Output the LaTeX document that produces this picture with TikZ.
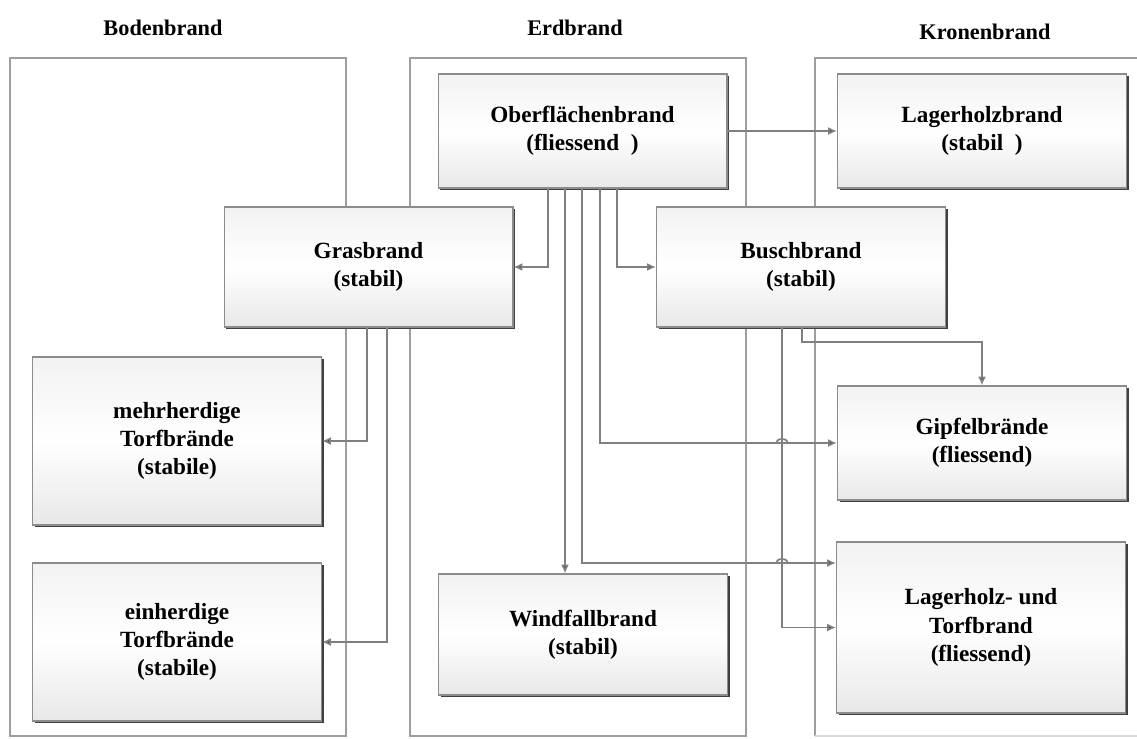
\documentclass[tikz,border=0pt]{standalone}
\usepackage{fontspec}
\setmainfont{Liberation Serif}
\usepackage{tikz}
\usetikzlibrary{arrows.meta}
\usetikzlibrary{shadows}

\tikzset{
	fire/.style={draw=black!45, line width=0.6pt, top color=black!5, bottom color=black!9, middle color=white,
		drop shadow={shadow xshift=1.4pt, shadow yshift=-1.4pt, fill=black!75, opacity=1},
		minimum width=5.78cm, align=center, font=\fontsize{13.2}{16}\selectfont\bfseries},
	link/.style={draw=black!50, line width=0.95pt, -{Latex[length=5pt,width=4.5pt,fill=black!75]}},
	column/.style={draw=black!38, line width=1.3pt}
}

\begin{document}
\begin{tikzpicture}[x=0.02cm, y=-0.02cm]

	\useasboundingbox (0,0) rectangle (1137,738);

	\foreach \x/\y/\name in {163/28/Bodenbrand, 575/28/Erdbrand, 985/32/Kronenbrand}
		\node[font=\fontsize{12.7}{15}\selectfont\bfseries] (title-\name) at (\x, \y) {\name};

	\draw[column] (10,58) rectangle (346,736);
	\draw[column] (410,58) rectangle (746,736);
	\draw[column] (815,736) -- (815,58) -- (1137,58);
	\draw[column, black!15] (815,736) -- (1137,736);

	\node[fire, minimum height=2.28cm] (ober) at (582.5, 131) {Oberfl\"achenbrand\\(fliessend~~)};
	\node[fire, minimum height=2.28cm] (lager) at (982, 131) {Lagerholzbrand\\(stabil~~)};
	\node[fire, minimum height=2.4cm] (gras) at (368.5, 267) {Grasbrand\\(stabil)};
	\node[fire, minimum height=2.4cm] (busch) at (801, 267) {Buschbrand\\(stabil)};
	\node[fire, minimum height=3.36cm] (mehr) at (177, 441) {mehrherdige\\Torfbr\"ande\\(stabile)};
	\node[fire, minimum height=3.16cm] (ein) at (177, 642) {einherdige\\Torfbr\"ande\\(stabile)};
	\node[fire, minimum height=2.28cm] (gipfel) at (982, 443) {Gipfelbr\"ande\\(fliessend)};
	\node[fire, minimum height=2.42cm] (wind) at (583, 634.5) {Windfallbrand\\(stabil)};
	\node[fire, minimum height=3.42cm] (torf) at (981, 627.5) {Lagerholz- und\\Torfbrand\\(fliessend)};

	\foreach \n/\x in {ta/548, tb/565, tc/582, td/600, te/617, tf/367, tg/387, th/782, ti/802}
		\coordinate (\n) at (\x, 0);
	\coordinate (r1) at (0, 563);
	\coordinate (r2) at (0, 342);

	\draw[link] (ober.east) -- (lager.west);
	\draw[link] (ober.south -| ta) |- (gras.east);
	\draw[link] (ober.south -| te) |- (busch.west);
	\draw[link] (ober.south -| tb) -- (wind.north -| tb);
	\draw[link] (ober.south -| tc) |- (torf.west |- r1);
	\draw[link] (ober.south -| td) |- (gipfel.west);
	\draw[link] (gras.south -| tf) |- (mehr.east);
	\draw[link] (gras.south -| tg) |- (ein.east);
	\draw[link] (busch.south -| th) |- (torf.west);
	\draw[link] (busch.south -| ti) -- (ti |- r2) -| (gipfel.north);

	\foreach \y in {443, 563}
		\draw[black!50, line width=0.95pt] (776,\y) arc (180:360:6 and 4);

\end{tikzpicture}
\end{document}
